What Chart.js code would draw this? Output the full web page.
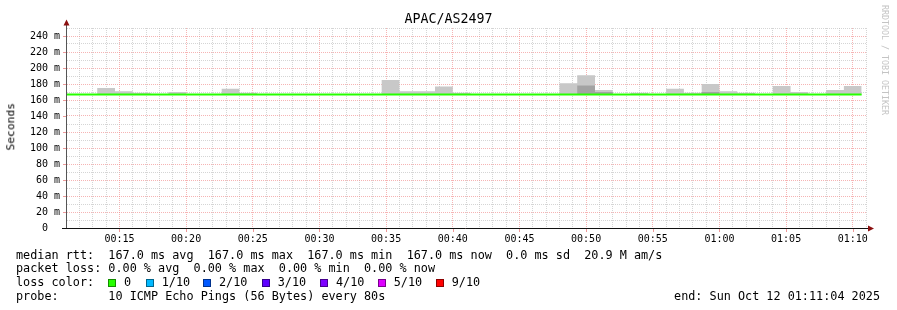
<!DOCTYPE html>
<html><head><meta charset="utf-8">
<script src="https://cdn.jsdelivr.net/npm/chart.js@4.4.0/dist/chart.umd.min.js"></script>
<style>
html,body{margin:0;padding:0;background:#fff;}
#wrap{position:relative;width:897px;height:310px;overflow:hidden;font-family:"DejaVu Sans Mono",monospace;color:#000;}
#c{position:absolute;left:0;top:0;}
.t{position:absolute;white-space:pre;line-height:1;}
.sw{position:absolute;width:8px;height:8px;border:1px solid rgba(0,0,0,0.45);box-sizing:border-box;}
</style></head><body>
<div id="wrap">
<canvas id="c" width="897" height="310"></canvas>
<div class="t" style="left:0;width:897px;text-align:center;top:12px;font-size:13.3px">APAC/AS2497</div>
<div class="t" style="left:5px;top:103px;font-size:11.3px;color:#000;writing-mode:vertical-rl;transform:rotate(180deg);">Seconds</div>
<div class="t" style="left:881px;top:5px;font-size:8.3px;color:#c4c4c4;writing-mode:vertical-rl;">RRDTOOL / TOBI OETIKER</div>
<div id="legend"></div>
</div>
<script>
// ---- data ----
const chartTitle = "APAC/AS2497";
const startTime = "00:11:04";
const endTime = "01:11:04";
const stepSeconds = 80;
const bucketEnds = ["00:12:00","00:13:20","00:14:40","00:16:00","00:17:20","00:18:40","00:20:00","00:21:20","00:22:40","00:24:00",
  "00:25:20","00:26:40","00:28:00","00:29:20","00:30:40","00:32:00","00:33:20","00:34:40","00:36:00","00:37:20",
  "00:38:40","00:40:00","00:41:20","00:42:40","00:44:00","00:45:20","00:46:40","00:48:00","00:49:20","00:50:40",
  "00:52:00","00:53:20","00:54:40","00:56:00","00:57:20","00:58:40","01:00:00","01:01:20","01:02:40","01:04:00",
  "01:05:20","01:06:40","01:08:00","01:09:20","01:10:40"];
const medianRtt = [167,167,167,167,167,167,167,167,167,167,167,167,167,167,167,167,167,167,167,167,167,167,167,
  167,167,167,167,167,167,167,167,167,167,167,167,167,167,167,167,167,167,167,167,167,167];
const smokeOuter = [167,167,175,171,169,167,170,167,167,174,169,167,167,167,167,167,167,167,185,171,171,177,169,
  167,167,167,167,167,181,191,172.5,167,169,167,174,169,180,171,169,167,177.5,170,167,172.5,177.5];
const smokeInner = [167,167,167,167,167,167,167,167,167,167,167,167,167,167,167,167,167,167,167,167,167,167,167,
  167,167,167,167,167,167,178,170,167,167,167,167,167,170,167,167,167,167,167,167,167,167];
const xTickLabels = ["00:15","00:20","00:25","00:30","00:35","00:40","00:45","00:50","00:55","01:00","01:05","01:10"];
const yTickLabels = ["0","20 m","40 m","60 m","80 m","100 m","120 m","140 m","160 m","180 m","200 m","220 m","240 m"];
const yTickValues = [0,20,40,60,80,100,120,140,160,180,200,220,240];
const lossLabels = ["0","1/10","2/10","3/10","4/10","5/10","9/10"];
const lossColors = ["#26ff00","#00b8ff","#0059ff","#5e00ff","#7e00ff","#dd00ff","#ff0000"];
const statsLine = "median rtt:  167.0 ms avg  167.0 ms max  167.0 ms min  167.0 ms now  0.0 ms sd  20.9 M am/s";
const lossLine = "packet loss: 0.00 % avg  0.00 % max  0.00 % min  0.00 % now";
const probeLine = "probe:       10 ICMP Echo Pings (56 Bytes) every 80s";
const endLine = "end: Sun Oct 12 01:11:04 2025";

// ---- helpers ----
const toSec = s => { const p = s.split(':').map(Number); return p[0]*3600 + p[1]*60 + (p[2]||0); };
const ends = bucketEnds.map(toSec);
function stepPoints(vals){
  const pts = [];
  vals.forEach((v,i)=>{ pts.push({x: ends[i]-stepSeconds, y: v}); pts.push({x: ends[i], y: v}); });
  return pts;
}
const xMajor = xTickLabels.map(toSec);
const xMin = toSec(startTime), xMax = toSec(endTime);
const xTicks = [];
for (let t = Math.ceil(xMin/60)*60; t <= xMax; t += 60) xTicks.push(t);
const yTicks = [];
for (let v = 0; v <= 250; v += 10) yTicks.push(v);
const majorC = 'rgba(240,130,130,0.6)';
const minorC = 'rgba(185,185,185,0.6)';
const FONT = "DejaVu Sans Mono";

// ---- legend text (HTML) ----
const lg = document.getElementById('legend');
function addText(txt, left, top, extra){
  const d = document.createElement('div'); d.className='t'; d.textContent = txt;
  d.style.left = left+'px'; d.style.top = top+'px'; d.style.fontSize = '11.8px';
  if (extra) Object.assign(d.style, extra);
  lg.appendChild(d); return d;
}
addText(statsLine, 16, 249.5);
addText(lossLine, 16, 263);
addText("loss color:", 16, 277);
const swX = [108,145.7,203,261.7,320,377.7,435.7];
lossLabels.forEach((l,i)=>{
  const s = document.createElement('div'); s.className='sw';
  s.style.left = swX[i]+'px'; s.style.top = '279px'; s.style.background = lossColors[i];
  lg.appendChild(s);
  addText(l, swX[i]+16, 277);
});
addText(probeLine, 16, 291);
addText(endLine, 0, 291, {left:'auto', right:'17px'});

// ---- axes plugin ----
const axesPlugin = {
  id: 'axesArrows',
  afterDatasetsDraw(chart){
    const {ctx, chartArea:a} = chart;
    const ys = chart.scales.y, xs = chart.scales.x;
    ctx.save();
    ctx.strokeStyle = 'rgba(230,110,110,0.7)'; ctx.lineWidth = 1;
    yTickValues.forEach(v=>{ const y = Math.round(ys.getPixelForValue(v))+0.5; ctx.beginPath(); ctx.moveTo(63, y); ctx.lineTo(66, y); ctx.stroke(); });
    xMajor.forEach(t=>{ const x = Math.round(xs.getPixelForValue(t))+0.5; ctx.beginPath(); ctx.moveTo(x, 229); ctx.lineTo(x, 232); ctx.stroke(); });
    ctx.strokeStyle = '#555'; ctx.lineWidth = 1;
    ctx.beginPath(); ctx.moveTo(66.5, a.bottom+1); ctx.lineTo(66.5, 24); ctx.stroke();
    ctx.strokeStyle = '#111';
    ctx.beginPath(); ctx.moveTo(62, a.bottom+0.5); ctx.lineTo(869, a.bottom+0.5); ctx.stroke();
    ctx.fillStyle = '#8b1010';
    ctx.beginPath(); ctx.moveTo(66.5, 19.5); ctx.lineTo(69.5, 25.5); ctx.lineTo(63.5, 25.5); ctx.closePath(); ctx.fill();
    ctx.beginPath(); ctx.moveTo(874, a.bottom+0.5); ctx.lineTo(868, a.bottom-2.5); ctx.lineTo(868, a.bottom+3.5); ctx.closePath(); ctx.fill();
    ctx.restore();
  }
};

new Chart(document.getElementById('c'), {
  type: 'line',
  data: {
    datasets: [
      { label: 'median rtt', data: stepPoints(medianRtt), borderColor: '#26ff00', borderWidth: 2, pointRadius: 0, fill: false, order: 0, tension: 0 },
      { label: 'smoke inner', data: stepPoints(smokeInner), borderWidth: 0, borderColor: 'rgba(0,0,0,0)', backgroundColor: '#a3a3a3', pointRadius: 0, fill: {value: 167}, order: 1, tension: 0 },
      { label: 'smoke outer', data: stepPoints(smokeOuter), borderWidth: 0, borderColor: 'rgba(0,0,0,0)', backgroundColor: '#c8c8c8', pointRadius: 0, fill: {value: 167}, order: 2, tension: 0 }
    ]
  },
  options: {
    responsive: false, animation: false, devicePixelRatio: 1,
    parsing: false, normalized: true,
    layout: { padding: { left: 0, right: 30, top: 28, bottom: 0 } },
    plugins: { legend: { display: false }, tooltip: { enabled: false }, title: { display: false } },
    scales: {
      x: {
        type: 'linear', min: xMin, max: xMax,
        afterBuildTicks: s => { s.ticks = xTicks.map(v => ({value: v})); },
        afterFit: s => { s.height = 82; },
        ticks: {
          autoSkip: false, maxRotation: 0, minRotation: 0, padding: 5, color: '#000',
          font: { family: FONT, size: 10 },
          callback: v => { const i = xMajor.indexOf(v); return i >= 0 ? xTickLabels[i] : ''; }
        },
        grid: { drawTicks: false, lineWidth: 1, color: c => (c.tick && xMajor.indexOf(c.tick.value) >= 0) ? majorC : minorC },
        border: { display: false, dash: [1,1] }
      },
      y: {
        type: 'linear', min: 0, max: 250,
        afterBuildTicks: s => { s.ticks = yTicks.map(v => ({value: v})); },
        afterFit: s => { s.width = 67; },
        ticks: {
          autoSkip: false, padding: 7, color: '#000',
          font: { family: FONT, size: 10 },
          callback: v => { const i = yTickValues.indexOf(v); return i < 0 ? '' : (v === 0 ? yTickLabels[i] + '  ' : yTickLabels[i]); }
        },
        grid: { drawTicks: false, lineWidth: 1, color: c => (c.tick && yTickValues.indexOf(c.tick.value) >= 0) ? majorC : minorC },
        border: { display: false, dash: [1,1] }
      }
    }
  },
  plugins: [axesPlugin]
});
</script>
</body></html>
